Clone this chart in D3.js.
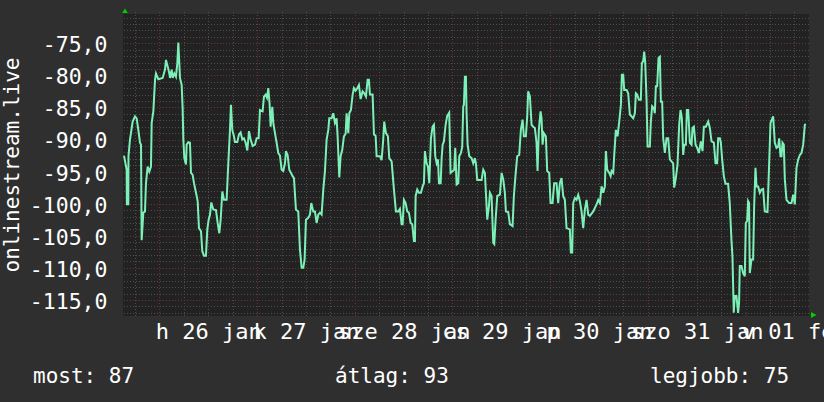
<!DOCTYPE html>
<html><head><meta charset="utf-8">
<script src="https://cdn.jsdelivr.net/npm/d3@7"></script>
<style>
html,body{margin:0;padding:0;background:#2f2f2f;overflow:hidden}
svg{display:block}
text{font-family:"DejaVu Sans Mono",monospace;fill:#ffffff}
</style></head><body>
<svg id="chart" width="824" height="402"></svg>
<script>
// ---- data ----
const startUTC = Date.UTC(2026, 0, 25, 15, 17);   // left edge of the graph
const spanHours = 168;                             // one week shown
// [hours since start, signal dBm]
const readings = [
[0.0,-92.5],[0.65,-94.7],[0.7,-100.1],[1.06,-100.1],[1.1,-92.6],[1.47,-90.0],[2.13,-87.2],[2.70,-86.4],[3.11,-86.7],[3.52,-88.5],
[3.93,-90.5],[4.18,-90.8],[4.34,-105.7],[4.75,-101.4],[5.16,-101.2],[5.40,-96.8],[5.81,-94.2],[6.22,-95.0],[6.63,-94.2],[6.80,-87.4],
[7.21,-85.6],[7.62,-80.7],[7.86,-79.7],[8.43,-80.6],[9.50,-80.4],[10.07,-79.1],[10.32,-77.6],[10.73,-78.6],[11.14,-79.7],[11.30,-80.4],
[11.71,-79.1],[11.96,-80.4],[12.37,-79.7],[12.77,-80.2],[13.10,-78.1],[13.35,-74.9],[13.59,-78.1],[13.76,-80.4],[14.17,-81.5],[14.41,-85.1],
[14.58,-90.0],[14.82,-92.9],[15.23,-93.9],[15.39,-90.8],[15.80,-90.4],[16.21,-90.5],[16.46,-95.2],[16.87,-95.5],[17.20,-96.8],[17.69,-98.3],
[18.10,-99.6],[18.42,-103.8],[18.92,-104.3],[19.24,-107.4],[19.65,-108.1],[20.14,-108.1],[20.47,-104.0],[20.80,-102.5],[21.13,-101.7],[21.45,-99.8],
[21.94,-100.9],[22.60,-101.0],[23.01,-103.0],[23.42,-104.6],[23.75,-102.5],[24.16,-98.1],[24.57,-99.4],[25.22,-99.4],[25.63,-93.7],[26.04,-88.5],
[26.28,-84.6],[26.61,-88.5],[27.02,-89.5],[27.27,-90.4],[27.84,-90.4],[28.25,-89.2],[28.66,-88.9],[29.07,-90.0],[29.48,-89.8],[29.89,-90.5],
[30.30,-91.7],[30.71,-88.7],[31.12,-90.0],[31.61,-91.0],[32.18,-90.8],[32.59,-89.8],[33.08,-89.8],[33.41,-85.4],[34.06,-85.6],[34.39,-83.3],
[34.80,-83.0],[35.13,-83.5],[35.46,-82.0],[35.79,-84.6],[36.03,-88.0],[36.44,-84.9],[36.69,-87.4],[37.09,-89.0],[37.50,-90.5],[37.91,-92.1],
[38.32,-92.5],[38.73,-94.7],[39.14,-94.9],[39.55,-93.7],[39.80,-91.8],[40.20,-92.4],[40.61,-94.7],[41.02,-95.2],[41.43,-95.7],[41.76,-96.0],
[41.84,-96.8],[42.25,-100.9],[42.82,-101.2],[43.23,-107.1],[43.65,-110.0],[44.05,-110.0],[44.38,-108.7],[44.71,-102.5],[45.28,-102.2],[45.69,-101.7],
[46.02,-99.9],[46.51,-101.2],[46.92,-101.2],[47.33,-103.0],[47.74,-101.7],[48.15,-101.4],[48.56,-101.7],[48.97,-97.8],[49.38,-94.9],[49.79,-90.0],
[50.20,-88.5],[50.44,-86.7],[51.02,-86.7],[51.42,-85.9],[51.83,-87.4],[52.24,-86.7],[52.49,-89.5],[52.90,-95.9],[53.23,-92.6],[53.63,-91.6],
[54.04,-89.5],[54.46,-89.1],[54.70,-85.9],[55.11,-89.0],[55.36,-85.9],[55.76,-85.4],[56.18,-83.0],[56.50,-82.0],[56.91,-82.4],[57.32,-82.0],
[57.73,-81.5],[58.14,-83.7],[58.63,-82.5],[59.04,-82.8],[59.45,-83.3],[59.86,-80.7],[60.18,-80.7],[60.43,-83.0],[61.09,-83.0],[61.42,-89.2],
[61.83,-89.4],[62.07,-92.6],[62.89,-92.6],[63.30,-93.2],[63.70,-90.0],[63.95,-87.2],[64.36,-89.0],[64.85,-89.5],[65.18,-92.9],[65.76,-93.4],
[66.33,-97.8],[66.82,-101.2],[67.39,-101.2],[67.80,-100.8],[68.22,-103.2],[68.46,-103.2],[68.78,-99.4],[69.20,-99.9],[69.60,-101.2],[70.01,-101.4],
[70.43,-103.0],[70.83,-103.2],[71.24,-105.8],[71.49,-105.8],[71.66,-98.8],[72.06,-97.8],[72.47,-98.3],[72.96,-98.3],[73.38,-97.3],[73.70,-96.8],
[73.94,-91.8],[74.36,-93.7],[74.68,-94.2],[75.01,-96.8],[75.42,-89.8],[75.83,-88.0],[76.16,-87.7],[76.48,-92.6],[76.82,-93.7],[77.15,-93.1],
[77.40,-96.8],[77.81,-96.8],[78.05,-92.9],[78.30,-90.8],[78.61,-90.3],[79.03,-87.7],[79.42,-86.3],[79.91,-85.8],[80.25,-95.2],[80.65,-95.0],
[81.14,-94.7],[81.39,-91.3],[81.73,-97.0],[82.14,-96.8],[82.38,-92.6],[82.80,-92.1],[83.11,-91.1],[83.36,-84.8],[83.52,-84.6],[83.77,-80.2],
[84.02,-80.2],[84.18,-85.9],[84.43,-90.8],[84.84,-92.6],[85.41,-92.9],[85.82,-93.7],[86.22,-92.9],[86.47,-93.7],[86.80,-96.3],[87.87,-96.3],
[88.28,-94.7],[88.68,-95.2],[88.93,-98.3],[89.26,-102.5],[89.67,-100.4],[89.91,-98.3],[90.32,-98.8],[90.73,-106.1],[90.98,-106.3],[91.31,-102.5],
[91.72,-98.8],[92.37,-98.6],[92.78,-95.2],[93.19,-96.2],[93.59,-98.3],[93.84,-101.2],[94.41,-101.3],[94.82,-103.2],[95.48,-103.5],[95.80,-98.8],
[96.21,-95.5],[96.62,-92.6],[97.11,-92.4],[97.52,-88.5],[97.94,-86.9],[98.26,-89.5],[98.75,-89.5],[99.08,-86.4],[99.32,-82.5],[99.74,-83.3],
[100.15,-87.7],[100.55,-88.0],[100.96,-88.2],[101.37,-90.5],[101.62,-94.9],[101.94,-88.5],[102.36,-85.6],[102.60,-86.7],[102.85,-90.8],[103.17,-89.0],
[103.66,-89.5],[103.99,-94.9],[104.48,-95.2],[104.81,-99.9],[105.30,-99.9],[105.71,-96.8],[106.28,-96.8],[106.69,-99.9],[107.10,-96.8],[107.51,-96.0],
[107.92,-98.8],[108.33,-99.4],[108.74,-103.8],[109.56,-104.0],[109.80,-107.6],[110.13,-107.6],[110.38,-99.9],[110.79,-99.1],[111.20,-99.4],[111.61,-98.6],
[112.02,-99.6],[112.43,-101.2],[112.84,-103.8],[113.25,-100.9],[113.66,-99.4],[114.07,-101.7],[114.48,-101.9],[115.30,-101.2],[116.12,-100.1],[116.53,-99.4],
[116.94,-99.9],[117.35,-97.3],[117.76,-98.3],[118.16,-97.3],[118.41,-91.8],[118.74,-94.7],[119.23,-95.2],[119.57,-95.7],[119.81,-94.9],[120.22,-95.2],
[120.46,-92.4],[120.86,-88.5],[121.27,-89.5],[121.69,-87.2],[122.10,-84.6],[122.34,-79.9],[122.67,-79.9],[122.91,-82.3],[123.50,-82.3],[123.89,-82.8],
[124.30,-86.1],[124.71,-86.4],[125.12,-86.7],[125.53,-85.9],[125.78,-82.8],[126.10,-83.0],[126.51,-83.8],[127.00,-83.8],[127.25,-78.1],[127.57,-77.8],
[127.82,-76.3],[128.06,-77.8],[128.40,-83.8],[128.65,-91.1],[129.21,-91.1],[129.46,-87.2],[129.78,-84.8],[130.19,-85.1],[130.44,-85.9],[130.69,-81.7],
[131.01,-81.7],[131.35,-77.3],[131.67,-77.1],[131.92,-84.1],[132.24,-84.1],[132.49,-89.8],[132.90,-92.1],[133.31,-89.8],[133.72,-89.8],[134.13,-93.1],
[134.94,-93.7],[135.19,-97.5],[135.60,-96.0],[136.01,-93.9],[136.42,-87.7],[136.75,-85.4],[137.08,-86.7],[137.40,-92.4],[137.65,-90.8],[138.06,-90.8],
[138.31,-85.4],[138.64,-85.4],[139.05,-90.5],[139.46,-90.8],[139.70,-88.2],[140.03,-88.0],[140.44,-90.8],[140.85,-91.3],[141.26,-92.1],[141.75,-90.3],
[142.16,-91.8],[142.48,-88.0],[142.97,-88.0],[143.55,-87.2],[143.96,-88.2],[144.37,-90.3],[144.94,-90.5],[145.35,-93.7],[145.75,-93.7],[146.00,-89.8],
[146.41,-89.8],[146.66,-90.5],[146.98,-93.1],[147.39,-95.7],[147.80,-96.9],[148.44,-96.9],[148.85,-99.9],[149.26,-105.6],[149.51,-108.2],[149.83,-117.0],
[150.08,-114.4],[150.49,-114.4],[150.90,-117.0],[151.14,-115.4],[151.31,-109.7],[151.72,-109.7],[152.13,-110.8],[152.54,-111.3],[152.79,-103.0],[153.11,-102.7],
[153.36,-99.6],[153.60,-99.9],[153.77,-110.8],[154.18,-108.7],[154.59,-108.7],[154.84,-100.4],[155.17,-94.4],[155.41,-97.3],[155.82,-97.3],[156.23,-98.3],
[156.64,-97.8],[157.05,-97.7],[157.46,-101.2],[158.12,-101.3],[158.53,-93.7],[158.86,-87.4],[159.19,-86.9],[159.51,-86.4],[159.92,-90.5],[160.33,-91.3],
[160.74,-91.1],[160.99,-89.8],[161.32,-92.6],[161.56,-92.6],[161.81,-90.5],[162.13,-90.8],[162.38,-96.2],[162.79,-99.4],[163.44,-99.9],[164.02,-99.9],
[164.43,-98.6],[164.84,-100.1],[165.25,-94.4],[165.66,-93.1],[166.07,-92.4],[166.48,-92.1],[166.89,-90.8],[167.30,-87.7],[167.54,-87.6]
];
const yDomain = [-117.5, -70.5];
const yTicks = [-115, -110, -105, -100, -95, -90, -85, -80, -75];
const yTitle = "onlinestream.live";
const summaryLabels = ["most", "átlag", "legjobb"];
const summaryValues = [87, 93, 75];

// ---- layout ----
const W = 824, H = 402;
const L = 124, R = 807.7, T = 14.4, B = 316;
const svg = d3.select("#chart");
const start = new Date(startUTC);
const end = new Date(startUTC + spanHours * 3600e3);
const x = d3.scaleUtc().domain([start, end]).range([L, R]);
const y = d3.scaleLinear().domain(yDomain).range([B, T]);

const huTime = d3.timeFormatLocale({
  dateTime: "%Y. %B %-e., %A %X", date: "%Y. %m. %d.", time: "%H:%M:%S",
  periods: ["de.", "du."],
  days: ["vasárnap","hétfő","kedd","szerda","csütörtök","péntek","szombat"],
  shortDays: ["v","h","k","sze","cs","p","szo"],
  months: ["január","február","március","április","május","június","július","augusztus","szeptember","október","november","december"],
  shortMonths: ["jan","feb","már","ápr","máj","jún","júl","aug","szep","okt","nov","dec"]
});
const dayFmt = huTime.utcFormat("%a %d %b");
const numFmt = d3.formatLocale({decimal: ",", thousands: " ", grouping: [3], currency: ["", ""], minus: "-"}).format(".1f");

svg.append("rect").attr("width", W).attr("height", H).attr("fill", "#2f2f2f");
svg.append("rect").attr("x", L - 1).attr("y", 14).attr("width", 809 - (L - 1)).attr("height", B - 14).attr("fill", "#222222");

// grid
const grid = svg.append("g");
const minorY = d3.range(Math.ceil(yDomain[0]), Math.floor(yDomain[1]) + 1).filter(v => v % 5 !== 0);
grid.selectAll(".hy").data(minorY).join("line")
  .attr("x1", L).attr("x2", 811).attr("y1", d => Math.round(y(d)) + 0.5).attr("y2", d => Math.round(y(d)) + 0.5)
  .attr("stroke", "#4d4d4d").attr("stroke-dasharray", "1,2");
const sixH = x.ticks(d3.utcHour.every(6)).filter(d => d.getUTCHours() !== 0);
grid.selectAll(".vx").data(sixH).join("line")
  .attr("x1", d => Math.round(x(d)) + 0.5).attr("x2", d => Math.round(x(d)) + 0.5).attr("y1", 12).attr("y2", B)
  .attr("stroke", "#4d4d4d").attr("stroke-dasharray", "1,2");
grid.selectAll(".hY").data(yTicks).join("line")
  .attr("x1", L).attr("x2", 811).attr("y1", d => Math.round(y(d)) + 0.5).attr("y2", d => Math.round(y(d)) + 0.5)
  .attr("stroke", "#6b3434").attr("stroke-dasharray", "1,2");
const days = x.ticks(d3.utcDay.every(1));
grid.selectAll(".vX").data(days).join("line")
  .attr("x1", d => Math.round(x(d)) + 0.5).attr("x2", d => Math.round(x(d)) + 0.5).attr("y1", 12).attr("y2", B)
  .attr("stroke", "#6b3434").attr("stroke-dasharray", "1,2");

// series
const series = readings.map(([h, v]) => ({t: new Date(startUTC + h * 3600e3), v}));
svg.append("path").datum(series)
  .attr("fill", "none").attr("stroke", "#7df0b8").attr("stroke-width", 2).attr("stroke-linejoin", "miter")
  .attr("d", d3.line().x(d => x(d.t)).y(d => y(d.v)));

// axes
const yAxis = svg.append("g").attr("transform", "translate(107.5,0)")
  .call(d3.axisLeft(y).tickValues(yTicks).tickFormat(numFmt).tickSize(0).tickPadding(0));
yAxis.select(".domain").remove();
yAxis.selectAll("text").attr("dy", "0.39em").style("font-size", "21.5px").attr("fill", "#fff")
  .style("font-family", "'DejaVu Sans Mono', monospace");

const noons = days.map(d => d3.utcHour.offset(d, 12));
const xAxis = svg.append("g").attr("transform", `translate(0,${B})`)
  .call(d3.axisBottom(x).tickValues(noons).tickFormat(dayFmt).tickSize(0));
xAxis.select(".domain").remove();
xAxis.selectAll("text").attr("y", 22.5).attr("dy", 0).style("font-size", "22px").attr("fill", "#fff")
  .style("font-family", "'DejaVu Sans Mono', monospace");

// arrows
svg.append("path").attr("d", "M125,8.5 L127.8,13 L122.2,13 Z").attr("fill", "#00d000");
svg.append("path").attr("d", "M816.5,315 L811,312 L811,318 Z").attr("fill", "#00d000");

// y title
svg.append("text").attr("transform", "translate(18.5,165) rotate(-90)")
  .attr("text-anchor", "middle").style("font-size", "21px").text(yTitle);

// summary
const sumX = [33, 335, 650];
svg.selectAll(".sum").data(summaryLabels).join("text")
  .attr("x", (d, i) => sumX[i]).attr("y", 383).style("font-size", "21px")
  .text((d, i) => `${d}: ${summaryValues[i]}`);
</script>
</body></html>
